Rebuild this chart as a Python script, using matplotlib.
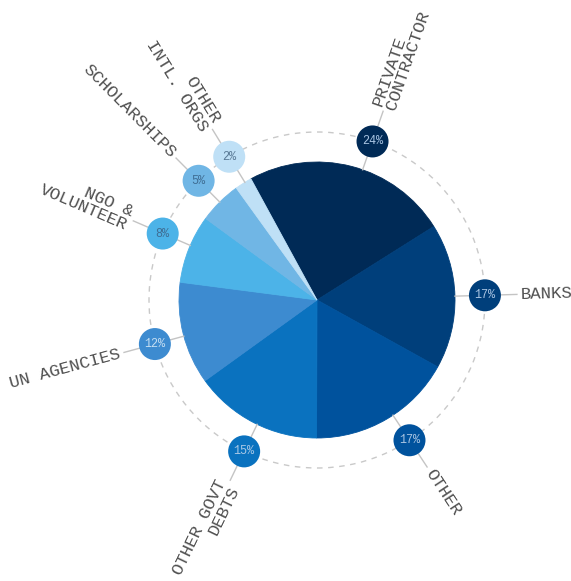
import numpy as np
import matplotlib
matplotlib.use("Agg")
import matplotlib.pyplot as plt
from matplotlib.patches import Circle

# data, clockwise from the top
labels = ["PRIVATE\nCONTRACTOR", "BANKS", "OTHER", "OTHER GOVT\nDEBTS",
          "UN AGENCIES", "NGO &\nVOLUNTEER", "SCHOLARSHIPS", "OTHER\nINTL. ORGS"]
shares = [24, 17, 17, 15, 12, 8, 5, 2]
colors = ["#002a56", "#003f7b", "#00529d", "#0a72bf",
          "#3d8bd0", "#4cb3e8", "#70b6e5", "#bfe0f6"]
badge_text = ["#a9c4e2", "#a9c4e2", "#a9c4e2", "#a9c8e6",
              "#c4def2", "#3f6d93", "#3f6d93", "#5a7a96"]

W, H = 571, 581
CX, CY = 317, H - 300
R_PIE, R_RING, R_BADGE, R_LABEL = 138, 168, 16, 204
START = 118.6
nudge = [-4.7, 0, 3, 1.5, 1, -1.5, 0, -0.7]   # hand placement of badges

fig = plt.figure(figsize=(W / 100, H / 100), dpi=100)
ax = fig.add_axes([0, 0, 1, 1])
wedges, _ = ax.pie(shares, colors=colors, startangle=START, counterclock=False,
                   center=(CX, CY), radius=R_PIE, wedgeprops=dict(linewidth=0.6))
for w, c in zip(wedges, colors):
    w.set_edgecolor(c)   # hide antialias seams
ax.set_xlim(0, W)
ax.set_ylim(0, H)
ax.set_aspect("equal")
ax.axis("off")

ax.add_patch(Circle((CX, CY), R_RING, fill=False, ec="#c9c9c9", lw=1.0,
                    ls=(0, (4, 4)), zorder=1))

mono = "Liberation Mono"
edge = START
for lab, v, c, tc, dn in zip(labels, shares, colors, badge_text, nudge):
    span = v / sum(shares) * 360
    ang = edge - span / 2 + dn
    edge -= span
    a = np.deg2rad(ang)
    ux, uy = np.cos(a), np.sin(a)
    # spokes: pie edge -> badge, badge -> label
    ax.plot([CX + ux * R_PIE, CX + ux * (R_RING - R_BADGE)],
            [CY + uy * R_PIE, CY + uy * (R_RING - R_BADGE)],
            color="#c4c4c4", lw=1.0, zorder=2)
    ax.plot([CX + ux * (R_RING + R_BADGE), CX + ux * (R_LABEL - 4)],
            [CY + uy * (R_RING + R_BADGE), CY + uy * (R_LABEL - 4)],
            color="#c4c4c4", lw=1.0, zorder=2)
    bx, by = CX + ux * R_RING, CY + uy * R_RING
    ax.add_patch(Circle((bx, by), R_BADGE, fc=c, ec="none", zorder=3))
    ax.text(bx, by, f"{v}%", color=tc, fontsize=8.5, family=mono,
            ha="center", va="center", zorder=4)
    lx, ly = CX + ux * R_LABEL, CY + uy * R_LABEL
    if -90 <= ang <= 90 or ang >= 270:
        rot, ha = ang, "left"
    else:
        rot, ha = ang - 180, "right"
    ax.text(lx, ly, lab, color="#505050", fontsize=12.5, family=mono,
            rotation=rot, rotation_mode="anchor", ha=ha, va="center",
            multialignment=ha, linespacing=0.95)

fig.savefig("out.png", dpi=100)
